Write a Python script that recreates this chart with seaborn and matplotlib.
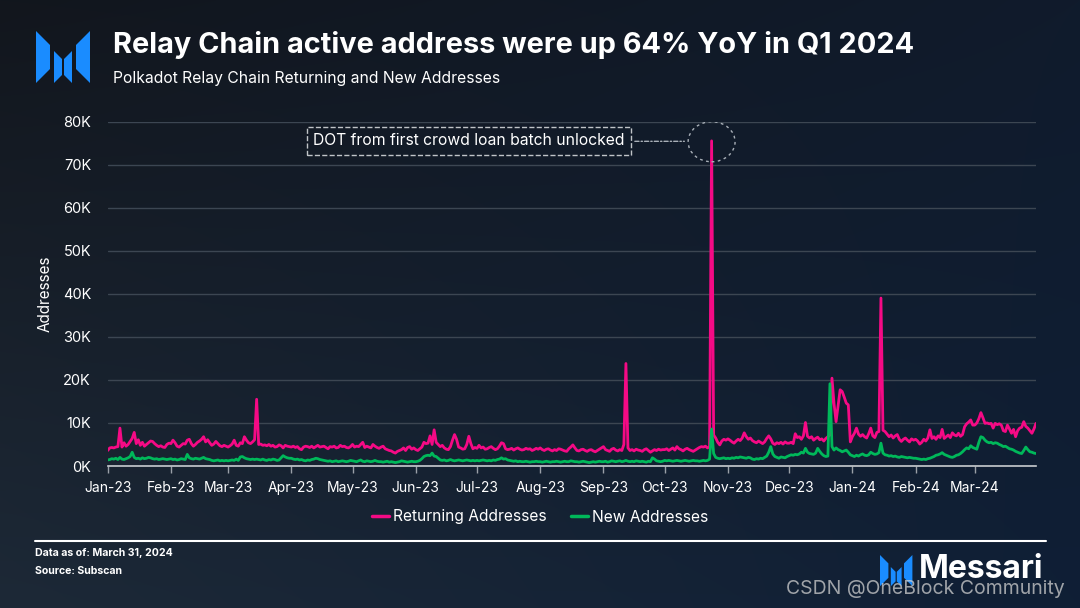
import numpy as np
import pandas as pd
import seaborn as sns
import matplotlib.pyplot as plt
import matplotlib.dates as mdates
from matplotlib.patches import Ellipse, Polygon
from matplotlib.lines import Line2D

sns.set_theme(style='dark')
plt.rcParams['font.family'] = ['Inter', 'DejaVu Sans']

# daily values in thousands, one row per month (Jan-23 .. Mar-24)
returning_k = [
    3.6, 4.2, 4.3, 4.2, 4.4, 4.5, 8.8, 4.4, 5.4, 4.6, 5.0, 5.7, 6.4, 7.8, 5.2, 6.1, 4.8, 5.5, 4.6, 5.0, 5.4, 5.8, 5.7, 5.2, 4.8, 4.5, 4.7, 4.4, 4.3, 5.0, 5.3,
    5.2, 6.0, 5.4, 4.6, 4.4, 4.8, 5.2, 5.1, 6.0, 6.2, 5.2, 4.6, 5.0, 5.5, 5.8, 6.2, 6.8, 5.6, 6.1, 5.4, 4.8, 5.1, 5.7, 5.2, 4.7, 4.5, 4.8, 4.6,
    4.4, 4.7, 5.1, 6.0, 4.8, 4.6, 5.4, 5.2, 6.8, 6.0, 5.4, 5.2, 5.6, 6.1, 15.5, 5.0, 5.1, 4.8, 4.9, 4.7, 5.0, 4.6, 4.8, 4.4, 4.5, 4.9, 4.7, 4.2, 4.8, 4.6, 4.5,
    4.4, 4.6, 4.3, 4.5, 4.0, 3.8, 4.4, 4.6, 4.5, 4.3, 4.6, 4.2, 4.5, 4.8, 4.4, 4.5, 4.6, 4.3, 4.0, 4.5, 4.4, 4.6, 4.2, 4.3, 4.8, 4.5, 4.6, 4.3, 4.2, 4.5,
    5.0, 4.4, 4.6, 4.5, 5.0, 5.5, 4.3, 4.6, 4.4, 4.2, 5.0, 4.6, 4.3, 4.1, 4.4, 4.6, 4.0, 3.8, 3.6, 3.5, 3.2, 3.0, 3.4, 3.6, 3.8, 4.2, 3.6, 4.3, 4.5, 3.9, 4.2,
    3.8, 3.6, 4.0, 4.4, 5.5, 5.2, 5.3, 7.0, 5.0, 8.4, 5.5, 5.0, 4.5, 4.8, 4.2, 3.9, 3.8, 4.5, 6.0, 7.3, 6.2, 4.4, 4.2, 3.9, 4.0, 5.0, 6.9, 5.2, 4.0, 4.3,
    4.1, 4.8, 4.2, 4.4, 3.9, 4.0, 4.3, 4.5, 4.1, 3.8, 4.0, 4.6, 5.4, 5.2, 4.0, 3.8, 3.9, 4.1, 3.7, 4.0, 4.2, 3.9, 3.7, 3.8, 4.1, 3.9, 4.0, 3.6, 3.8, 4.1, 3.9,
    4.2, 3.8, 3.6, 3.9, 4.0, 3.7, 3.5, 3.8, 3.6, 4.0, 3.9, 3.7, 3.5, 3.4, 4.0, 4.4, 4.9, 4.2, 3.6, 3.5, 3.8, 3.9, 3.6, 3.4, 3.7, 3.8, 3.5, 3.3, 3.6, 3.9, 4.2,
    4.5, 3.8, 3.6, 3.4, 3.9, 4.1, 3.7, 3.5, 3.8, 3.6, 5.0, 23.8, 4.2, 3.6, 3.8, 3.5, 3.9, 3.7, 3.6, 3.4, 3.8, 4.0, 3.6, 3.2, 3.5, 3.8, 3.6, 3.9, 3.7, 3.8,
    3.8, 4.0, 3.6, 3.9, 4.2, 3.7, 4.5, 4.0, 3.8, 3.5, 3.9, 4.1, 3.8, 3.6, 3.4, 3.7, 4.0, 4.3, 4.5, 4.4, 4.6, 4.2, 4.5, 75.5, 7.2, 6.5, 5.5, 4.9, 5.8, 6.2, 6.0,
    6.3, 6.0, 5.6, 5.3, 5.8, 6.2, 5.9, 6.5, 7.7, 6.8, 6.2, 6.5, 5.9, 5.6, 5.4, 5.8, 5.5, 5.2, 5.6, 6.4, 7.0, 6.3, 5.3, 5.0, 5.4, 5.2, 5.5, 5.1, 5.6, 5.3,
    5.3, 5.5, 5.2, 7.5, 6.6, 6.8, 6.2, 7.0, 10.1, 6.9, 6.5, 6.8, 6.0, 6.4, 6.7, 6.1, 6.3, 5.8, 6.4, 6.8, 7.2, 20.4, 14.5, 10.3, 14.0, 17.7, 17.3, 16.0, 14.6, 14.2, 5.6,
    6.8, 7.6, 8.8, 7.4, 6.9, 7.3, 6.8, 6.5, 7.5, 8.8, 7.0, 6.6, 7.8, 8.0, 39.0, 8.3, 8.0, 7.4, 6.8, 7.2, 6.5, 7.0, 7.3, 6.2, 5.7, 6.2, 6.5, 6.0, 5.6, 6.3, 6.0,
    6.2, 5.8, 5.1, 5.5, 6.2, 5.8, 6.5, 8.4, 6.4, 6.8, 6.2, 7.0, 6.6, 8.5, 6.4, 6.8, 7.2, 6.6, 7.7, 7.2, 7.0, 7.6, 6.9, 7.3, 9.1, 9.8, 10.2, 10.7, 9.5,
    9.5, 10.0, 11.0, 12.4, 11.2, 9.9, 10.0, 9.8, 9.9, 8.8, 9.9, 9.6, 9.8, 9.5, 8.2, 8.0, 9.5, 8.6, 7.6, 8.5, 6.8, 8.2, 8.8, 9.0, 10.3, 9.2, 8.8, 8.2, 7.6, 8.6, 9.9,
]
new_k = [
    1.4, 1.5, 1.7, 1.6, 1.8, 1.5, 2.0, 1.6, 1.5, 1.7, 1.9, 2.2, 3.2, 2.0, 1.7, 1.8, 1.6, 1.9, 1.7, 1.8, 2.0, 1.9, 1.7, 1.6, 1.7, 1.5, 1.6, 1.7, 1.6, 1.5, 1.6,
    1.7, 1.5, 1.6, 1.4, 1.5, 1.7, 1.6, 1.5, 2.7, 1.9, 1.7, 1.6, 1.8, 1.7, 1.6, 1.8, 2.0, 1.7, 1.6, 1.5, 1.3, 1.2, 1.3, 1.4, 1.2, 1.3, 1.2, 1.3,
    1.2, 1.3, 1.4, 1.3, 1.6, 1.3, 2.1, 2.2, 1.9, 1.7, 1.6, 1.5, 1.6, 1.5, 1.6, 1.5, 1.4, 1.6, 1.4, 1.3, 1.5, 1.4, 1.6, 1.5, 1.3, 1.4, 1.9, 2.4, 2.1, 1.9, 1.8,
    1.8, 1.6, 1.5, 1.6, 1.4, 1.5, 1.3, 1.2, 1.4, 1.3, 1.5, 1.6, 1.8, 1.7, 1.5, 1.4, 1.3, 1.2, 1.1, 1.2, 1.0, 1.1, 1.2, 1.0, 1.1, 1.2, 1.1, 1.0, 1.1, 1.3,
    1.2, 1.1, 1.0, 1.2, 1.4, 1.1, 1.0, 1.2, 1.1, 1.0, 1.1, 1.3, 1.1, 1.0, 1.0, 0.9, 1.0, 1.1, 0.9, 1.0, 0.9, 0.8, 0.9, 1.0, 1.2, 1.1, 1.0, 0.9, 1.0, 1.1, 1.0,
    1.0, 1.1, 1.3, 1.7, 2.2, 2.4, 2.5, 2.4, 3.0, 2.3, 2.2, 1.8, 1.4, 1.3, 1.4, 1.2, 1.3, 1.5, 1.3, 1.2, 1.3, 1.4, 1.3, 1.2, 1.3, 1.4, 1.3, 1.2, 1.3, 1.2,
    1.3, 1.2, 1.3, 1.4, 1.3, 1.2, 1.3, 1.2, 1.4, 1.3, 1.5, 1.6, 1.9, 1.6, 1.7, 1.4, 1.3, 1.2, 1.1, 1.2, 1.0, 1.1, 1.0, 1.0, 1.1, 1.0, 0.9, 1.0, 1.0, 1.1, 1.0,
    1.0, 0.9, 1.0, 1.1, 1.0, 0.9, 1.0, 1.0, 1.1, 1.0, 0.9, 1.0, 1.1, 1.0, 1.0, 1.2, 1.1, 1.0, 1.0, 0.9, 1.0, 1.1, 1.0, 0.9, 0.8, 0.9, 1.0, 0.9, 1.0, 1.1, 1.0,
    1.0, 1.1, 0.9, 1.0, 1.2, 1.1, 1.0, 1.1, 1.2, 1.0, 1.1, 1.3, 1.1, 1.0, 1.1, 1.0, 1.2, 1.1, 1.0, 1.1, 1.0, 0.9, 1.1, 1.0, 1.9, 1.6, 1.2, 1.1, 1.0, 1.1,
    1.3, 1.2, 1.3, 1.2, 1.1, 1.2, 1.3, 1.2, 1.1, 1.2, 1.3, 1.2, 1.1, 1.2, 1.3, 1.2, 1.2, 1.1, 1.2, 1.3, 1.2, 1.3, 1.6, 8.6, 2.9, 2.0, 1.8, 1.7, 1.8, 1.9, 1.7,
    1.8, 1.7, 1.9, 1.8, 2.0, 1.9, 2.1, 2.0, 1.9, 1.8, 2.0, 1.9, 1.6, 1.5, 1.7, 1.6, 1.8, 1.7, 2.0, 2.3, 3.2, 4.5, 2.8, 2.2, 2.0, 1.8, 2.1, 2.0, 1.9, 2.2,
    2.4, 2.6, 2.5, 2.7, 2.6, 2.8, 3.2, 3.0, 4.1, 3.2, 2.9, 2.8, 2.7, 3.0, 4.1, 3.4, 2.8, 2.4, 2.2, 2.3, 19.1, 4.5, 3.7, 4.2, 3.8, 3.6, 3.3, 3.5, 3.7, 3.2, 2.6,
    2.4, 2.2, 2.5, 2.3, 2.6, 2.8, 2.5, 2.4, 2.6, 3.2, 2.9, 2.7, 2.8, 3.1, 5.3, 3.0, 2.6, 2.5, 2.3, 2.4, 2.2, 2.3, 2.1, 2.0, 2.2, 2.1, 2.0, 1.9, 2.0, 1.9, 1.8,
    1.8, 1.7, 1.6, 1.5, 1.6, 1.5, 1.7, 1.8, 2.0, 2.2, 2.5, 2.6, 2.8, 3.1, 2.7, 2.5, 2.3, 2.1, 2.0, 2.2, 2.5, 2.6, 2.9, 3.3, 3.8, 4.2, 4.0, 4.7, 4.3,
    4.1, 3.9, 5.5, 6.8, 6.6, 6.0, 5.6, 5.4, 5.5, 5.2, 5.4, 5.3, 5.0, 4.8, 4.5, 4.6, 4.3, 4.0, 3.9, 3.7, 3.4, 3.2, 3.0, 2.9, 3.6, 4.4, 3.8, 3.3, 3.2, 3.0, 2.9,
]
dates = pd.date_range('2023-01-01', '2024-03-31', freq='D')
series_names = ['Returning Addresses', 'New Addresses']
series_colors = ['#f50a85', '#00b85a']
month_ticks = pd.date_range('2023-01-01', '2024-03-01', freq='MS')
month_labels = [d.strftime('%b-%y') for d in month_ticks]
y_ticks = [0, 10000, 20000, 30000, 40000, 50000, 60000, 70000, 80000]
y_labels = ['0K', '10K', '20K', '30K', '40K', '50K', '60K', '70K', '80K']

df = pd.DataFrame({'date': dates,
                   series_names[0]: np.array(returning_k) * 1000,
                   series_names[1]: np.array(new_k) * 1000})
df = df.melt(id_vars='date', var_name='series', value_name='addresses')

W, H = 1080, 608
fig = plt.figure(figsize=(W / 100, H / 100), dpi=100)


def fx(px):
    return px / W


def fy(py):
    return 1 - py / H


# background gradient
bg = fig.add_axes([0, 0, 1, 1], zorder=-10)
yy, xx = np.mgrid[0:1:H * 1j, 0:1:W * 1j]
tl = np.array([18, 22, 29]); tr = np.array([16, 27, 44])
bl = np.array([29, 41, 55]); br = np.array([15, 31, 54])
img = ((1 - xx)[..., None] * (1 - yy)[..., None] * tl + xx[..., None] * (1 - yy)[..., None] * tr
       + (1 - xx)[..., None] * yy[..., None] * bl + xx[..., None] * yy[..., None] * br) / 255
bg.imshow(img, aspect='auto', extent=[0, 1, 0, 1])
bg.axis('off')

ax = fig.add_axes([fx(107.7), fy(466), fx(1036) - fx(107.7), fy(121.5) - fy(466)])
ax.set_facecolor('none')
sns.lineplot(data=df, x='date', y='addresses', hue='series', hue_order=series_names,
             palette=series_colors, linewidth=2.0, legend=False, ax=ax)

ax.set_xlim(dates[0], dates[-1])
ax.set_ylim(0, 80000)
ax.set_yticks(y_ticks)
ax.set_yticklabels(y_labels, color='white', fontsize=10.5)
ax.set_xticks(month_ticks)
ax.set_xticklabels(month_labels, color='white', fontsize=10)
ax.tick_params(axis='y', length=0, pad=12)
ax.tick_params(axis='x', length=5, color='#9aa0a8', width=1, pad=6, bottom=True)
ax.grid(axis='y', color='#3c4652', lw=1)
ax.grid(axis='x', visible=False)
for s in ['top', 'right', 'left']:
    ax.spines[s].set_visible(False)
ax.spines['bottom'].set_color('#c8ccd0')
ax.spines['bottom'].set_linewidth(1.2)
ax.set_xlabel('')
ax.set_ylabel('Addresses', color='white', fontsize=11, labelpad=7)

# annotation for the crowd loan unlock
peak_day = mdates.date2num(pd.Timestamp('2023-10-24'))
ax.add_patch(Ellipse((peak_day, 75300), width=23, height=9300, fill=False,
                     ec='#a9b0b8', lw=1, ls=(0, (2, 2.5)), zorder=5))
ax.text(mdates.date2num(pd.Timestamp('2023-06-27')), 75500, 'DOT from first crowd loan batch unlocked',
        color='white', fontsize=11.3, ha='center', va='center',
        bbox=dict(boxstyle='square,pad=0.4', fc='none', ec='#c0c4c8', ls='--', lw=1))
ax.annotate('', xy=(mdates.date2num(pd.Timestamp('2023-10-12')), 75400),
            xytext=(mdates.date2num(pd.Timestamp('2023-09-15')), 75400),
            arrowprops=dict(arrowstyle='-', color='#a9b0b8', ls=(0, (3, 1.5, 1, 1.5)), lw=1))

# legend
handles = [Line2D([0], [0], color=c, lw=2.5) for c in series_colors]
fig.legend(handles, series_names, loc='center', bbox_to_anchor=(0.5, fy(517)), ncol=2,
           frameon=False, fontsize=11.2, handlelength=1.1, handletextpad=0.25,
           columnspacing=1.6, labelcolor='white')

# titles
fig.text(fx(113), fy(45), 'Relay Chain active address were up 64% YoY in Q1 2024',
         color='white', fontsize=20.8, fontweight='bold', va='center', ha='left')
fig.text(fx(113), fy(78), 'Polkadot Relay Chain Returning and New Addresses',
         color='white', fontsize=11.3, va='center', ha='left')


def draw_logo(x0, y0, s):
    pieces = [
        [(0, 0), (14, 14), (14, 38), (0, 52)],
        [(18, 20), (26, 28), (26, 44), (18, 52)],
        [(28, 28), (36, 20), (36, 52), (28, 44)],
        [(40, 14), (54, 0), (54, 52), (40, 38)],
    ]
    for p in pieces:
        pts = [(fx(x0 + px * s), fy(y0 + py * s)) for px, py in p]
        fig.add_artist(Polygon(pts, closed=True, fc='#1a8cff', ec='none', transform=fig.transFigure))


draw_logo(36, 31, 1.0)
draw_logo(880, 555, 0.6)

# footer
fig.add_artist(Line2D([fx(35), fx(1046)], [fy(541), fy(541)], color='white', lw=1.5,
                      transform=fig.transFigure))
fig.text(fx(35), fy(553), 'Data as of: March 31, 2024', color='white', fontsize=7.6,
         fontweight='bold', va='center')
fig.text(fx(35), fy(571), 'Source: Subscan', color='white', fontsize=7.6,
         fontweight='bold', va='center')
fig.text(fx(919), fy(569), 'Messari', color='white', fontsize=23, fontweight='bold', va='center')
fig.text(fx(1065), fy(589), 'CSDN @OneBlock Community', color='#d0d0d0', alpha=0.75,
         fontsize=14, ha='right', va='center')

fig.savefig('out.png', dpi=100)
